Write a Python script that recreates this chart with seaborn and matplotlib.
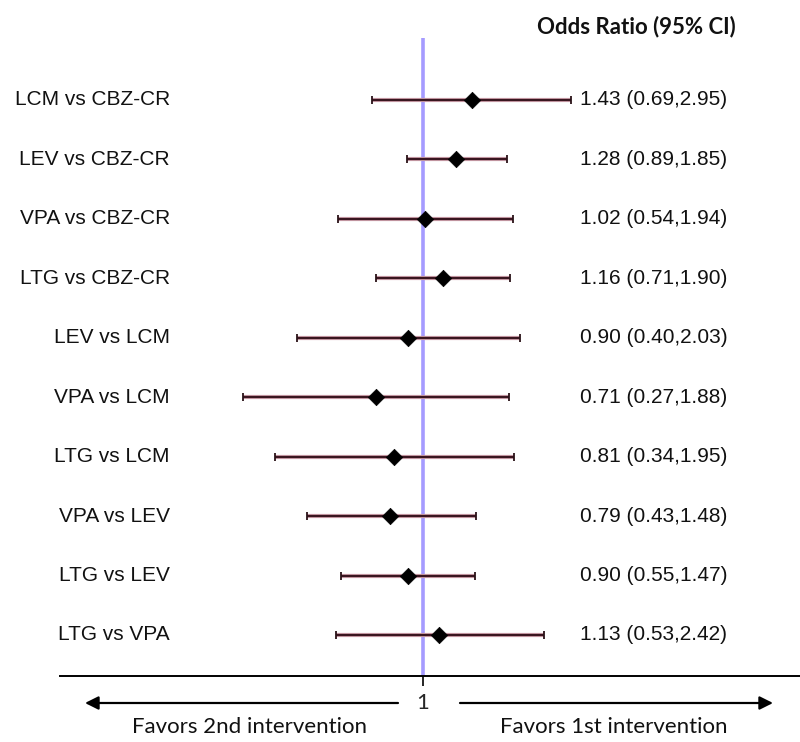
import numpy as np
import pandas as pd
import matplotlib
matplotlib.use("Agg")
import matplotlib.pyplot as plt
import matplotlib.transforms as mtransforms
import seaborn as sns

comparisons = ["LCM vs CBZ-CR", "LEV vs CBZ-CR", "VPA vs CBZ-CR", "LTG vs CBZ-CR",
               "LEV vs LCM", "VPA vs LCM", "LTG vs LCM", "VPA vs LEV",
               "LTG vs LEV", "LTG vs VPA"]
odds_ratio = [1.43, 1.28, 1.02, 1.16, 0.90, 0.71, 0.81, 0.79, 0.90, 1.13]
ci_lower = [0.69, 0.89, 0.54, 0.71, 0.40, 0.27, 0.34, 0.43, 0.55, 0.53]
ci_upper = [2.95, 1.85, 1.94, 1.90, 2.03, 1.88, 1.95, 1.48, 1.47, 2.42]

df = pd.DataFrame({"comparison": comparisons, "or": odds_ratio,
                   "lo": ci_lower, "hi": ci_upper})
df["row"] = np.arange(len(df))
df["label"] = [f"{o:.2f} ({l:.2f},{h:.2f})" for o, l, h in zip(df["or"], df["lo"], df["hi"])]

sns.set_style("white")
plt.rcParams["font.family"] = ["Liberation Sans", "DejaVu Sans"]

W, H = 800, 742
fig = plt.figure(figsize=(W / 100, H / 100), dpi=100)
ax = fig.add_axes([60 / W, 1 - 676 / H, 1 - 60 / W, (676 - 38) / H])

ax.set_xscale("log")
x0 = 422.5
k = 137.0
ax.set_xlim(np.exp((60 - x0) / k), np.exp((800 - x0) / k))
ax.set_ylim(9.69, -1.043)

# reference line at 1
ax.axvline(1, color="#a59bff", lw=2.6, zorder=1)

# CI lines
ax.hlines(df["row"], df["lo"], df["hi"], color="#c79aa5", lw=3.0, zorder=2)
ax.hlines(df["row"], df["lo"], df["hi"], color="#3a1620", lw=1.5, zorder=3)
for col in ["lo", "hi"]:
    ax.scatter(df[col], df["row"], marker="|", s=32, color="#2a1218", lw=1.3, zorder=4)

sns.scatterplot(data=df, x="or", y="row", marker="D", s=70, color="black",
                edgecolor="black", linewidth=0.5, ax=ax, zorder=5, legend=False)

# spines / ticks
for s in ["top", "right", "left"]:
    ax.spines[s].set_visible(False)
ax.spines["bottom"].set_color("black")
ax.spines["bottom"].set_linewidth(1.4)
ax.set_yticks([])
ax.set_xticks([1])
ax.set_xticklabels([""])
ax.xaxis.set_minor_locator(matplotlib.ticker.NullLocator())
ax.tick_params(axis="x", direction="out", length=7, width=1.2, color="black", bottom=True)
ax.set_xlabel("")
ax.set_ylabel("")

# left labels and right values
trans_l = mtransforms.blended_transform_factory(fig.transFigure, ax.transData)
for _, r in df.iterrows():
    fig.text(170 / W, r["row"], r["comparison"], transform=trans_l, ha="right",
             va="center", fontsize=15, color="#111111")
    fig.text(580 / W, r["row"], r["label"], transform=trans_l, ha="left",
             va="center", fontsize=15, color="#111111")

fig.text(636 / W, 1 - 27 / H, "Odds Ratio (95% CI)", ha="center", va="center",
         fontsize=16, fontweight="bold", family=["Lato", "DejaVu Sans"], color="#111111")

# bottom annotations
trans_b = ax.get_xaxis_transform()
ya = (676 - 703) / (676 - 38)
ax.annotate("", xy=(np.exp((85 - x0) / k), ya), xytext=(np.exp((398 - x0) / k), ya),
            xycoords=trans_b, textcoords=trans_b, annotation_clip=False,
            arrowprops=dict(arrowstyle="-|>", color="black", lw=1.6,
                            mutation_scale=20, shrinkA=0, shrinkB=0))
ax.annotate("", xy=(np.exp((773 - x0) / k), ya), xytext=(np.exp((460 - x0) / k), ya),
            xycoords=trans_b, textcoords=trans_b, annotation_clip=False,
            arrowprops=dict(arrowstyle="-|>", color="black", lw=1.6,
                            mutation_scale=20, shrinkA=0, shrinkB=0))
ax.text(1, ya, "1", transform=trans_b, ha="center", va="center", fontsize=16,
        family=["Lato", "DejaVu Sans"], clip_on=False)
fig.text(250 / W, 1 - 727 / H, "Favors 2nd intervention", ha="center", va="center",
         fontsize=16, family=["Lato", "DejaVu Sans"], color="#111111")
fig.text(614 / W, 1 - 727 / H, "Favors 1st intervention", ha="center", va="center",
         fontsize=16, family=["Lato", "DejaVu Sans"], color="#111111")

fig.savefig("out.png", dpi=100)
